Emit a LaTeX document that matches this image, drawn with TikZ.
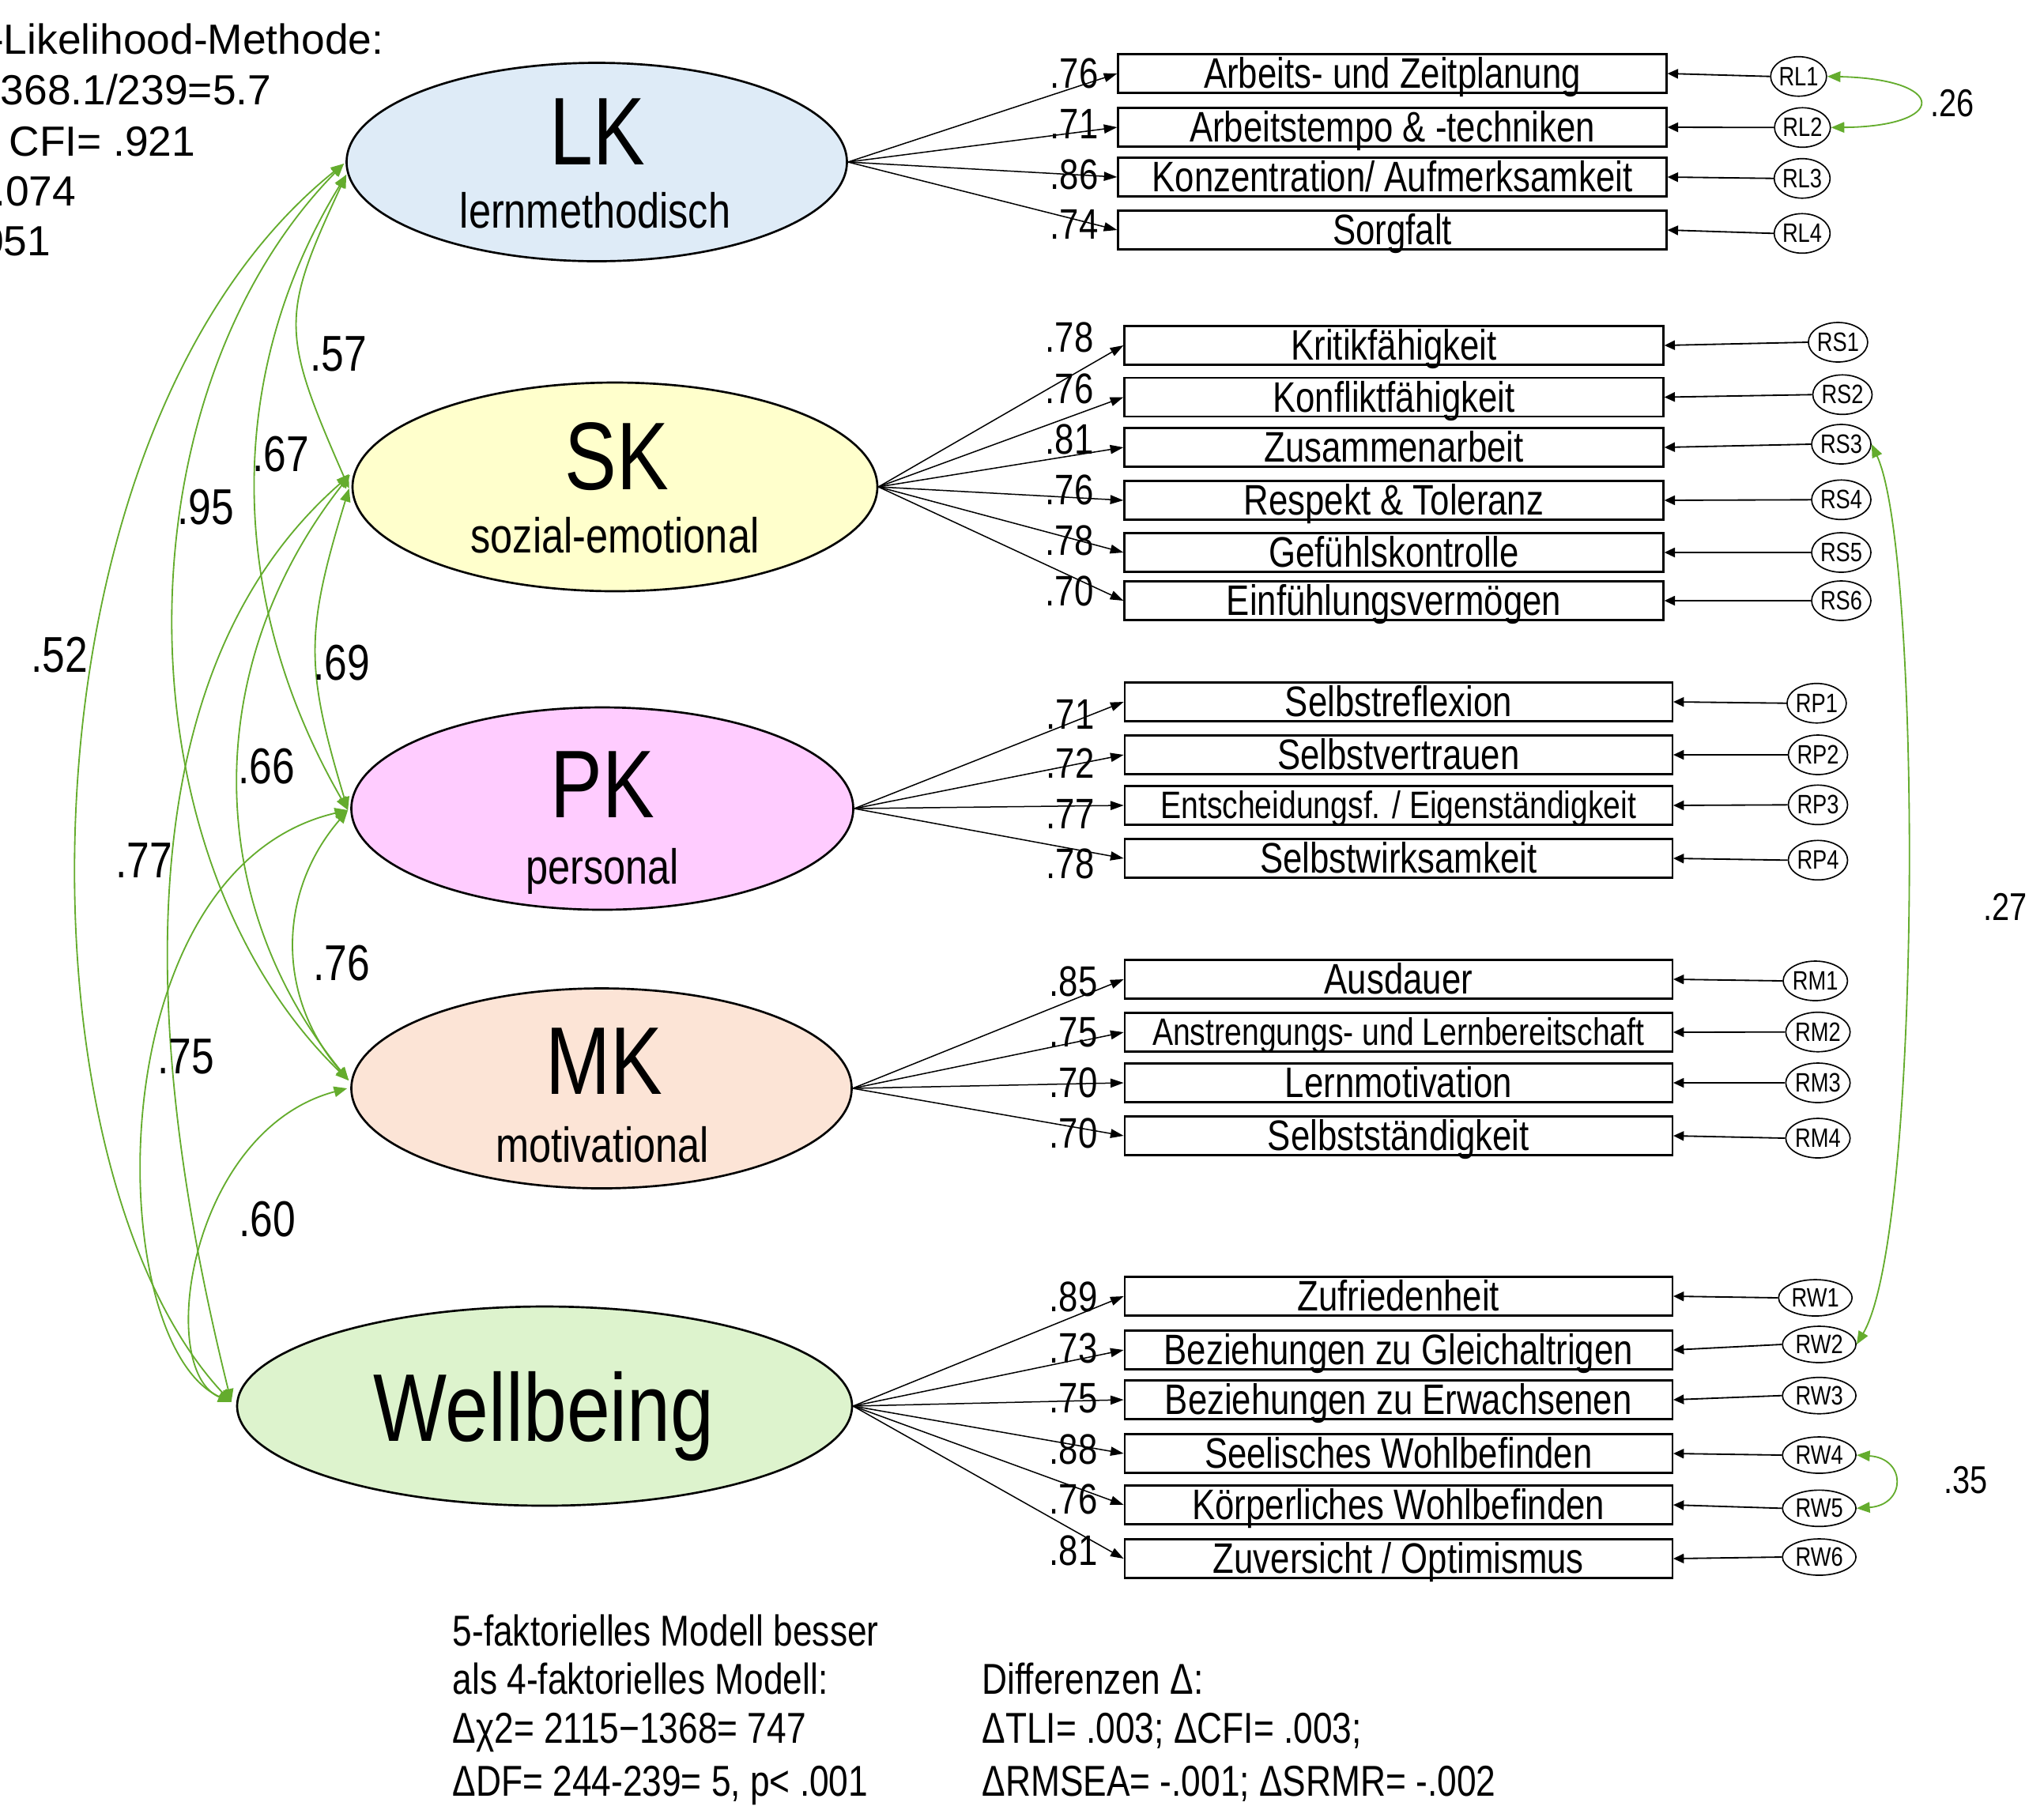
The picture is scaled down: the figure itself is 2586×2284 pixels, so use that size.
\documentclass[tikz,border=0pt]{standalone}
\usepackage{fontspec}
\setmainfont{Liberation Sans}[FakeStretch=0.81]
\newfontfamily\regfont{Liberation Sans}
\usetikzlibrary{shapes.geometric,arrows.meta,calc}
\definecolor{lkfill}{RGB}{222,235,247}
\definecolor{skfill}{RGB}{255,255,204}
\definecolor{pkfill}{RGB}{255,204,255}
\definecolor{mkfill}{RGB}{252,228,214}
\definecolor{wbfill}{RGB}{221,243,205}
\definecolor{covgreen}{RGB}{100,172,45}
\newcommand\fBox{\fontsize{16.2}{19}\selectfont}
\newcommand\fBoxS{\fontsize{14.5}{17}\selectfont}
\newcommand\fRes{\fontsize{10.1}{12}\selectfont}
\newcommand\fLd{\fontsize{16.2}{19}\selectfont}
\newcommand\fCv{\fontsize{19.1}{22}\selectfont}
\newcommand\fCvR{\fontsize{14.7}{17}\selectfont}
\newcommand\fBig{\fontsize{36.5}{40}\selectfont}
\newcommand\fSub{\fontsize{18.7}{22}\selectfont}
\newcommand\fTop{\regfont\fontsize{16}{19}\selectfont}
\newcommand\fBot{\fontsize{16.4}{19}\selectfont}
\begin{document}
\begin{tikzpicture}[x=0.3pt,y=-0.3pt,
  lat/.style={ellipse,draw=black,line width=0.8pt,inner sep=0pt},
  ind/.style={rectangle,draw=black,line width=0.7pt,inner sep=0pt,minimum height=14.7pt,text height=11.2pt,text depth=0pt,font=\fBox},
  indS/.style={ind,text height=10pt,font=\fBoxS},
  res/.style={ellipse,draw=black,line width=0.5pt,inner sep=0pt,minimum width=21pt,minimum height=15pt,text height=7pt,text depth=0pt,font=\fRes},
  resw/.style={res,minimum width=27.9pt,minimum height=13.8pt},
  load/.style={draw=black,line width=0.45pt,-{Triangle[length=5pt,width=3.4pt]}},
  err/.style={draw=black,line width=0.55pt,-{Triangle[length=4pt,width=3.6pt]}},
  cov/.style={draw=covgreen,line width=0.55pt,{Triangle[length=5pt,width=4pt]}-{Triangle[length=5pt,width=4pt]}},
  ldlab/.style={anchor=east,inner sep=0pt,text height=11.3pt,text depth=0pt,font=\fLd},
  cvlab/.style={inner sep=0pt,text height=13.4pt,text depth=0pt,font=\fCv},
  cvlabr/.style={inner sep=0pt,text height=10.3pt,text depth=0pt,font=\fCvR},
  txt/.style={anchor=base west,inner sep=0pt,font=\fBot},
]
\useasboundingbox (0,0) rectangle (2586,2284);
\clip (0,0) rectangle (2586,2284);

% ---------- top-left fit text ----------
\node[anchor=base east,inner sep=0pt,font=\fTop] (fit1) at (486,68) {Maximum-Likelihood-Methode:};
\node[anchor=base east,inner sep=0pt,font=\fTop] (fit2) at (344,132) {$\chi$2= 1368.1/239=5.7};
\node[anchor=base east,inner sep=0pt,font=\fTop] (fit3) at (248,197) {TLI= .910; CFI= .921};
\node[anchor=base east,inner sep=0pt,font=\fTop] (fit4) at (97,260) {RMSEA= .074};
\node[anchor=base east,inner sep=0pt,font=\fTop] (fit5) at (65,323) {SRMR= .051};

% ---------- latent factors ----------
\node[lat,fill=lkfill,minimum width=189.9pt,minimum height=75.3pt] (LK) at (755,205) {};
\node[lat,fill=skfill,minimum width=199.2pt,minimum height=79.2pt] (SK) at (778,616) {};
\node[lat,fill=pkfill,minimum width=190.5pt,minimum height=76.8pt] (PK) at (762,1023) {};
\node[lat,fill=mkfill,minimum width=189.9pt,minimum height=75.9pt] (MK) at (761,1377) {};
\node[lat,fill=wbfill,minimum width=233.4pt,minimum height=75.6pt] (WB) at (689,1779) {};

\node[anchor=base,inner sep=0pt,font=\fBig] (tLK) at (756,208) {LK};
\node[anchor=base,inner sep=0pt,font=\fSub] (sLK) at (753,288) {lernmethodisch};
\node[anchor=base,inner sep=0pt,font=\fBig] (tSK) at (780,619) {SK};
\node[anchor=base,inner sep=0pt,font=\fSub] (sSK) at (778,699) {sozial-emotional};
\node[anchor=base,inner sep=0pt,font=\fBig] (tPK) at (762,1034) {PK};
\node[anchor=base,inner sep=0pt,font=\fSub] (sPK) at (762,1118) {personal};
\node[anchor=base,inner sep=0pt,font=\fBig] (tMK) at (764,1384) {MK};
\node[anchor=base,inner sep=0pt,font=\fSub] (sMK) at (762,1470) {motivational};
\node[anchor=base,inner sep=0pt,font=\fBig] (tWB) at (688,1823) {Wellbeing};

% ---------- indicators LK ----------
\node[ind,minimum width=208.2pt] (l1) at (1761.5,93) {Arbeits- und Zeitplanung};
\node[ind,minimum width=208.2pt] (l2) at (1761.5,161) {Arbeitstempo \& -techniken};
\node[ind,minimum width=208.2pt] (l3) at (1761.5,224) {Konzentration/ Aufmerksamkeit};
\node[ind,minimum width=208.2pt] (l4) at (1761.5,291) {Sorgfalt};
% SK
\node[ind,minimum width=204.6pt] (s1) at (1763.5,437) {Kritikfähigkeit};
\node[ind,minimum width=204.6pt] (s2) at (1763.5,502.5) {Konfliktfähigkeit};
\node[ind,minimum width=204.6pt] (s3) at (1763.5,566) {Zusammenarbeit};
\node[ind,minimum width=204.6pt] (s4) at (1763.5,633) {Respekt \& Toleranz};
\node[ind,minimum width=204.6pt] (s5) at (1763.5,699) {Gefühlskontrolle};
\node[ind,minimum width=204.6pt] (s6) at (1763.5,760) {Einfühlungsvermögen};
% PK
\node[ind,minimum width=207.9pt] (p1) at (1769.3,888) {Selbstreflexion};
\node[ind,minimum width=207.9pt] (p2) at (1769.3,955) {Selbstvertrauen};
\node[indS,minimum width=207.9pt] (p3) at (1769.3,1019) {Entscheidungsf. / Eigenständigkeit};
\node[ind,minimum width=207.9pt] (p4) at (1769.3,1086) {Selbstwirksamkeit};
% MK
\node[ind,minimum width=207.9pt] (m1) at (1769.3,1239) {Ausdauer};
\node[indS,minimum width=207.9pt] (m2) at (1769.3,1306) {Anstrengungs- und Lernbereitschaft};
\node[ind,minimum width=207.9pt] (m3) at (1769.3,1370) {Lernmotivation};
\node[ind,minimum width=207.9pt] (m4) at (1769.3,1437) {Selbstständigkeit};
% WB
\node[ind,minimum width=207.9pt] (w1) at (1769.3,1640) {Zufriedenheit};
\node[ind,minimum width=207.9pt] (w2) at (1769.3,1708) {Beziehungen zu Gleichaltrigen};
\node[ind,minimum width=207.9pt] (w3) at (1769.3,1771) {Beziehungen zu Erwachsenen};
\node[ind,minimum width=207.9pt] (w4) at (1769.3,1839) {Seelisches Wohlbefinden};
\node[ind,minimum width=207.9pt] (w5) at (1769.3,1904) {Körperliches Wohlbefinden};
\node[ind,minimum width=207.9pt] (w6) at (1769.3,1972) {Zuversicht / Optimismus};

% ---------- residuals ----------
\node[res] (RL1) at (2275.5,96.7) {RL1};
\node[res] (RL2) at (2280.4,161.3) {RL2};
\node[res] (RL3) at (2280,225.7) {RL3};
\node[res] (RL4) at (2280,295.3) {RL4};
\node[res,minimum width=20.4pt] (RS1) at (2325.4,433) {RS1};
\node[res,minimum width=20.4pt] (RS2) at (2331,499.3) {RS2};
\node[res,minimum width=20.4pt] (RS3) at (2329.5,562) {RS3};
\node[res,minimum width=20.4pt] (RS4) at (2329.5,632.3) {RS4};
\node[res,minimum width=20.4pt] (RS5) at (2329.5,699) {RS5};
\node[res,minimum width=20.4pt] (RS6) at (2329.5,760) {RS6};
\node[res] (RP1) at (2298.4,889.7) {RP1};
\node[res] (RP2) at (2300,955) {RP2};
\node[res] (RP3) at (2300,1018.3) {RP3};
\node[res] (RP4) at (2300,1088.3) {RP4};
\node[res] (RM1) at (2296.7,1241) {RM1};
\node[res] (RM2) at (2300,1305.7) {RM2};
\node[res] (RM3) at (2300,1370) {RM3};
\node[res] (RM4) at (2300,1440) {RM4};
\node[resw] (RW1) at (2296.7,1642) {RW1};
\node[resw] (RW2) at (2301.6,1701) {RW2};
\node[resw] (RW3) at (2301.6,1765.7) {RW3};
\node[resw] (RW4) at (2301.6,1841) {RW4};
\node[resw] (RW5) at (2301.6,1908.3) {RW5};
\node[resw] (RW6) at (2301.6,1970) {RW6};

% ---------- loading arrows ----------
\foreach \b in {l1,l2,l3,l4} \draw[load] (LK.east) -- (\b.west);
\foreach \b in {s1,s2,s3,s4,s5,s6} \draw[load] (SK.east) -- (\b.west);
\foreach \b in {p1,p2,p3,p4} \draw[load] (PK.east) -- (\b.west);
\foreach \b in {m1,m2,m3,m4} \draw[load] (MK.east) -- (\b.west);
\foreach \b in {w1,w2,w3,w4,w5,w6} \draw[load] (WB.east) -- (\b.west);

% ---------- residual arrows ----------
\foreach \r/\b in {RL1/l1,RL2/l2,RL3/l3,RL4/l4,RS1/s1,RS2/s2,RS3/s3,RS4/s4,RS5/s5,RS6/s6,RP1/p1,RP2/p2,RP3/p3,RP4/p4,RM1/m1,RM2/m2,RM3/m3,RM4/m4,RW1/w1,RW2/w2,RW3/w3,RW4/w4,RW5/w5,RW6/w6}
  \draw[err] (\r.west) -- (\b.east);

% ---------- loading labels ----------
\node[ldlab] (vl1) at (1390,93) {.76};
\node[ldlab] (vl2) at (1390,156.7) {.71};
\node[ldlab] (vl3) at (1390,220.5) {.86};
\node[ldlab] (vl4) at (1390,284) {.74};
\node[ldlab] (vs1) at (1384,427) {.78};
\node[ldlab] (vs2) at (1384,491.3) {.76};
\node[ldlab] (vs3) at (1384,556) {.81};
\node[ldlab] (vs4) at (1384,620) {.76};
\node[ldlab] (vs5) at (1384,684) {.78};
\node[ldlab] (vs6) at (1384,747.7) {.70};
\node[ldlab] (vp1) at (1385,904) {.71};
\node[ldlab] (vp2) at (1385,966) {.72};
\node[ldlab] (vp3) at (1385,1030) {.77};
\node[ldlab] (vp4) at (1385,1093) {.78};
\node[ldlab] (vm1) at (1389,1241.7) {.85};
\node[ldlab] (vm2) at (1389,1306) {.75};
\node[ldlab] (vm3) at (1389,1370) {.70};
\node[ldlab] (vm4) at (1389,1433.3) {.70};
\node[ldlab] (vw1) at (1389,1641) {.89};
\node[ldlab] (vw2) at (1389,1705.5) {.73};
\node[ldlab] (vw3) at (1389,1769) {.75};
\node[ldlab] (vw4) at (1389,1833.3) {.88};
\node[ldlab] (vw5) at (1389,1897) {.76};
\node[ldlab] (vw6) at (1389,1961.7) {.81};

% ---------- factor covariances ----------
\coordinate (lkA) at ($(LK.west)+(-2,2)$);
\coordinate (lkB) at ($(LK.west)+(1,16)$);
\coordinate (skC) at ($(SK.west)+(-2,-15)$);
\coordinate (skD) at ($(SK.west)+(-3,2)$);
\coordinate (pkE) at ($(PK.west)+(-3,2)$);
\coordinate (mkF) at ($(MK.west)+(-2,-10)$);
\coordinate (mkG) at ($(MK.west)+(-4,0)$);
\coordinate (wbH) at ($(WB.west)+(-6,-5)$);

\draw[cov] (lkA) .. controls (12,547) and (12,1473) .. (wbH);
\draw[cov] (lkA) .. controls (147,501) and (148,1083) .. (mkF);
\draw[cov] (lkB) .. controls (285,471) and (285,756) .. (pkE);
\draw[cov] (lkB) .. controls (355,400) and (355,420) .. (skD);
\draw[cov] (skD) .. controls (386,800) and (386,844) .. (pkE);
\draw[cov] (skC) .. controls (255,840) and (255,1138) .. (mkF);
\draw[cov] (skC) .. controls (128,876) and (200,1400) .. (wbH);
\draw[cov] (pkE) .. controls (120,1100) and (129,1700) .. (wbH);
\draw[cov] (pkE) .. controls (350,1130) and (350,1262) .. (mkF);
\draw[cov] (mkG) .. controls (240,1430) and (196,1733) .. (wbH);

\node[cvlab] (c57) at (428,447) {.57};
\node[cvlab] (c67) at (355,574) {.67};
\node[cvlab] (c95) at (260,641) {.95};
\node[cvlab] (c52) at (75,828) {.52};
\node[cvlab] (c69) at (432,838) {.69};
\node[cvlab] (c66) at (337,969) {.66};
\node[cvlab] (c77) at (182,1088) {.77};
\node[cvlab] (c76) at (432,1218) {.76};
\node[cvlab] (c75) at (235,1336) {.75};
\node[cvlab] (c60) at (338,1542) {.60};

% ---------- residual covariances ----------
\draw[cov] (RL1.east) .. controls (2465,100) and (2465,160) .. (RL2.east);
\draw[cov] (RS3.east) .. controls (2432,700) and (2432,1560) .. (RW2.east);
\draw[cov] (RW4.east) .. controls (2412,1845) and (2412,1904) .. (RW5.east);
\node[cvlabr] (c26) at (2470,130) {.26};
\node[cvlabr] (c27) at (2537,1147) {.27};
\node[cvlabr] (c35) at (2487,1872) {.35};

% ---------- bottom text ----------
\node[txt] (bt1) at (572,2082) {5-faktorielles Modell besser};
\node[txt] (bt2) at (572,2143) {als 4-faktorielles Modell:};
\node[txt] (bt3) at (572,2205) {Δχ2= 2115−1368= 747};
\node[txt] (bt4) at (572,2272) {ΔDF= 244-239= 5, p< .001};
\node[txt] (bt5) at (1242,2143) {Differenzen Δ:};
\node[txt] (bt6) at (1242,2205) {ΔTLI= .003; ΔCFI= .003;};
\node[txt] (bt7) at (1242,2272) {ΔRMSEA= -.001; ΔSRMR= -.002};
\end{tikzpicture}
\end{document}
